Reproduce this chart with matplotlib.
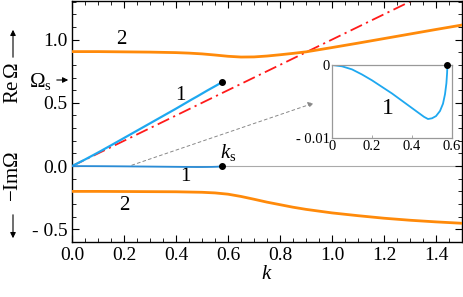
import matplotlib
matplotlib.use("Agg")
import matplotlib.pyplot as plt
from matplotlib.patches import FancyArrowPatch
from matplotlib.ticker import MultipleLocator, FixedLocator, FixedFormatter

plt.rcParams['font.family'] = 'serif'
plt.rcParams['font.serif'] = ['Liberation Serif', 'Times New Roman', 'DejaVu Serif']
plt.rcParams['mathtext.fontset'] = 'custom'
plt.rcParams['mathtext.rm'] = 'Liberation Serif'
plt.rcParams['mathtext.it'] = 'Liberation Serif:italic'

# ---- data ----
k_orange = [0.0, 0.1, 0.2, 0.3, 0.4, 0.45, 0.5, 0.55, 0.6, 0.65, 0.7, 0.75, 0.8,
            0.85, 0.9, 1.0, 1.1, 1.2, 1.3, 1.4, 1.5]
re_orange = [0.905, 0.905, 0.903, 0.901, 0.897, 0.893, 0.887, 0.878, 0.868, 0.862,
             0.863, 0.870, 0.880, 0.891, 0.903, 0.937, 0.972, 1.008, 1.044, 1.080, 1.115]
im_orange = [-0.200, -0.200, -0.201, -0.202, -0.203, -0.205, -0.207, -0.212, -0.222,
             -0.240, -0.262, -0.285, -0.305, -0.325, -0.342, -0.370, -0.392, -0.412,
             -0.428, -0.441, -0.452]

k_blue = [0.0, 0.05, 0.1, 0.15, 0.2, 0.25, 0.3, 0.35, 0.4, 0.44, 0.46, 0.48, 0.50,
          0.52, 0.54, 0.555, 0.565, 0.572, 0.5755, 0.577]
re_blue = [0.0, 0.052, 0.107, 0.164, 0.222, 0.280, 0.338, 0.396, 0.454, 0.502, 0.526,
           0.549, 0.573, 0.597, 0.620, 0.637, 0.649, 0.658, 0.662, 0.665]
im_blue = [0.0, -0.00018, -0.0006, -0.0013, -0.0021, -0.0030, -0.0039, -0.0049,
           -0.0059, -0.0067, -0.0071, -0.0074, -0.0073, -0.0070, -0.0063, -0.0053,
           -0.0040, -0.0025, -0.0011, 0.0]

k_red = [0.0, 1.5]
re_red = [0.0, 1.5]

k_s = 0.577
omega_s = 0.665

y_ticks = [-0.5, 0.0, 0.5, 1.0]
y_ticklabels = ['- 0.5', '0.0', '0.5', '1.0']
x_ticks = [0.0, 0.2, 0.4, 0.6, 0.8, 1.0, 1.2, 1.4]
x_ticklabels = ['0.0', '0.2', '0.4', '0.6', '0.8', '1.0', '1.2', '1.4']
inset_xticks = [0.0, 0.2, 0.4, 0.6]
inset_xticklabels = ['0', '0.2', '0.4', '0.6']
inset_yticks = [-0.01, 0.0]
inset_yticklabels = ['- 0.01', '0']

ORANGE = '#FF8A0A'
BLUE = '#1EA8F0'
BLUE_DARK = '#2A8CD6'
RED = '#FF1A1A'

fig = plt.figure(figsize=(4.63, 2.97), dpi=100)
ax = fig.add_axes([72/463, 1 - 242/297, 390/463, 241/297])

ax.axhline(0, color='#aaaaaa', lw=0.8, zorder=1)
ax.plot(k_red, re_red, color=RED, lw=1.3, dashes=(7, 2.5, 1.2, 2.5), zorder=2)
ax.plot(k_orange, re_orange, color=ORANGE, lw=2.0, zorder=3)
ax.plot(k_orange, im_orange, color=ORANGE, lw=2.0, zorder=3)
ax.plot(k_blue, re_blue, color=BLUE, lw=1.6, zorder=4)
ax.plot(k_blue, im_blue, color=BLUE_DARK, lw=1.3, zorder=4)
ax.plot([k_s, k_s], [omega_s, 0.0], 'o', color='black', ms=4, zorder=5)

ax.annotate('', xy=(0.94, 0.505), xytext=(0.22, 0.0),
            arrowprops=dict(arrowstyle='-|>', color='#888888', lw=0.7,
                            linestyle=(0, (3, 3)), mutation_scale=8))

ax.set_xlim(0, 1.5)
ax.set_ylim(-0.6, 1.305)
ax.xaxis.set_major_locator(FixedLocator(x_ticks))
ax.xaxis.set_major_formatter(FixedFormatter(x_ticklabels))
ax.xaxis.set_minor_locator(MultipleLocator(0.05))
ax.yaxis.set_major_locator(FixedLocator(y_ticks))
ax.yaxis.set_major_formatter(FixedFormatter(y_ticklabels))
ax.yaxis.set_minor_locator(MultipleLocator(0.1))
ax.tick_params(which='both', direction='in', top=True, right=True, labelsize=14)
ax.tick_params(which='major', length=5, width=0.8)
ax.tick_params(which='minor', length=3, width=0.6)
for s in ax.spines.values():
    s.set_linewidth(1.0)
ax.set_xlabel('$k$', fontsize=15, labelpad=1)

fs = 15
ax.text(0.19, 1.0, '2', fontsize=fs, ha='center', va='center')
ax.text(0.415, 0.56, '1', fontsize=fs, ha='center', va='center')
ax.text(0.435, -0.085, '1', fontsize=fs, ha='center', va='center')
ax.text(0.20, -0.31, '2', fontsize=fs, ha='center', va='center')
ax.text(0.60, 0.11, r'$k_{\rm s}$', fontsize=fs, ha='center', va='center')

# left labels
fig.text(40/463, 1 - 81/297, r'$\Omega_{\rm s}$', fontsize=fs, ha='center', va='center')
fig.add_artist(FancyArrowPatch(
    (54/463, 1 - 80/297), (71/463, 1 - 80/297), transform=fig.transFigure,
    arrowstyle='-|>', mutation_scale=8, color='black', lw=0.8))
fig.text(13/463, 1 - 83/297, r'Re$\,\Omega$', fontsize=fs, rotation=90, ha='center', va='center')
fig.add_artist(FancyArrowPatch(
    (13/463, 1 - 60/297), (13/463, 1 - 27/297), transform=fig.transFigure,
    arrowstyle='-|>', mutation_scale=8, color='black', lw=0.8))
fig.text(13/463, 1 - 176/297, r'$-$Im$\Omega$', fontsize=fs, rotation=90, ha='center', va='center')
fig.add_artist(FancyArrowPatch(
    (13/463, 1 - 212/297), (13/463, 1 - 241/297), transform=fig.transFigure,
    arrowstyle='-|>', mutation_scale=8, color='black', lw=0.8))

# inset
axi = fig.add_axes([332/463, 1 - 138/297, 120/463, 73/297])
axi.plot(k_blue, im_blue, color=BLUE, lw=1.3)
axi.plot([k_s], [0.0], 'o', color='black', ms=4, clip_on=False, zorder=5)
axi.set_xlim(0, 0.6)
axi.set_ylim(-0.01, 0.0)
axi.xaxis.set_major_locator(FixedLocator(inset_xticks))
axi.xaxis.set_major_formatter(FixedFormatter(inset_xticklabels))
axi.yaxis.set_major_locator(FixedLocator(inset_yticks))
axi.yaxis.set_major_formatter(FixedFormatter(inset_yticklabels))
axi.tick_params(direction='in', length=2.5, width=0.6, color='#999999',
                labelsize=10.5, pad=1.5)
for s in axi.spines.values():
    s.set_color('#999999')
    s.set_linewidth(0.9)
axi.text(0.28, -0.0059, '1', fontsize=fs + 2, ha='center', va='center')

fig.savefig('out.png', dpi=100)
